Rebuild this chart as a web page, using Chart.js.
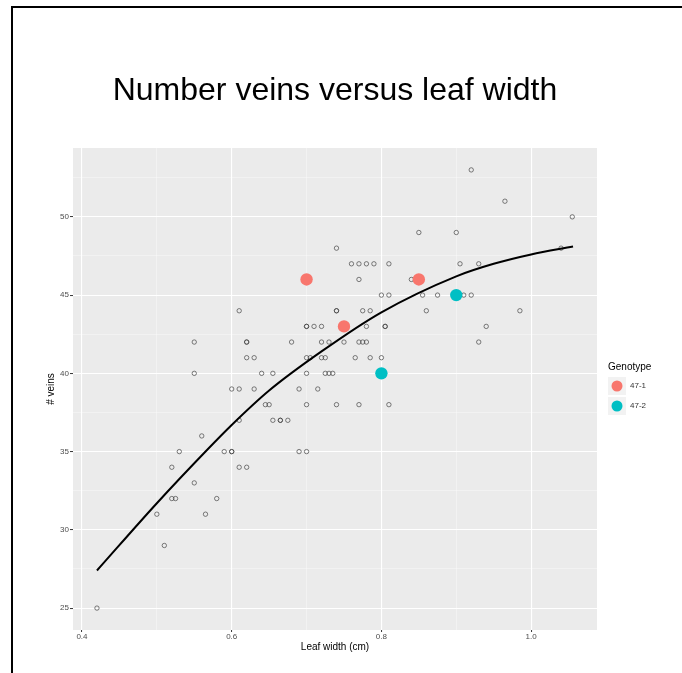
<!DOCTYPE html>
<html>
<head>
<meta charset="utf-8">
<title>Number veins versus leaf width</title>
<script src="https://cdn.jsdelivr.net/npm/chart.js@4.4.1/dist/chart.umd.min.js"></script>
<style>
    html, body { margin: 0; padding: 0; background: #fff; }
    #wrap { position: relative; width: 682px; height: 673px; overflow: hidden; }
    #frame { position: absolute; left: 11px; top: 6px; width: 720px; height: 720px;
             border-top: 2px solid #000; border-left: 2px solid #000; }
    #veinChart { position: absolute; left: 0; top: 0; }
</style>
</head>
<body>
<div id="wrap">
    <div id="frame"></div>
    <canvas id="veinChart" width="682" height="673"></canvas>
</div>
<script>
// all plants: leaf width (cm) and number of veins
const leafWidth = [
    0.92,
    0.965,
    1.055,
    0.85, 0.90,
    0.74, 1.04,
    0.76, 0.77, 0.78, 0.79, 0.81, 0.905, 0.93,
    0.77, 0.84,
    0.80, 0.81, 0.855, 0.875, 0.91, 0.92,
    0.61, 0.74, 0.74, 0.775, 0.785, 0.86, 0.985,
    0.70, 0.70, 0.71, 0.72, 0.78, 0.805, 0.805, 0.94,
    0.55, 0.62, 0.62, 0.68, 0.72, 0.73, 0.75, 0.77, 0.775, 0.78, 0.93,
    0.62, 0.63, 0.70, 0.705, 0.72, 0.725, 0.765, 0.785, 0.80,
    0.55, 0.64, 0.655, 0.70, 0.725, 0.73, 0.735,
    0.60, 0.61, 0.63, 0.69, 0.715,
    0.645, 0.65, 0.70, 0.74, 0.77, 0.81,
    0.61, 0.655, 0.665, 0.665, 0.675,
    0.56,
    0.53, 0.59, 0.60, 0.60, 0.69, 0.70,
    0.52, 0.61, 0.62,
    0.55,
    0.52, 0.525, 0.58,
    0.50, 0.565,
    0.51,
    0.42
];
const veinCount = [
    53,
    51,
    50,
    49, 49,
    48, 48,
    47, 47, 47, 47, 47, 47, 47,
    46, 46,
    45, 45, 45, 45, 45, 45,
    44, 44, 44, 44, 44, 44, 44,
    43, 43, 43, 43, 43, 43, 43, 43,
    42, 42, 42, 42, 42, 42, 42, 42, 42, 42, 42,
    41, 41, 41, 41, 41, 41, 41, 41, 41,
    40, 40, 40, 40, 40, 40, 40,
    39, 39, 39, 39, 39,
    38, 38, 38, 38, 38, 38,
    37, 37, 37, 37, 37,
    36,
    35, 35, 35, 35, 35, 35,
    34, 34, 34,
    33,
    32, 32, 32,
    31, 31,
    29,
    25
];

// highlighted genotypes
const genotypes = ["47-1", "47-2"];
const genotypeColors = ["#F8766D", "#00BFC4"];
const genotypeWidth = [[0.70, 0.75, 0.85], [0.80, 0.90]];
const genotypeVeins = [[46, 43, 46], [40, 45]];

// fitted curve
const curveX = [0.42, 0.50, 0.567, 0.60, 0.65, 0.72, 0.80, 0.90, 0.95, 1.00, 1.056];
const curveY = [27.4, 31.7, 35.1, 36.7, 38.9, 41.4, 43.9, 46.2, 47.0, 47.6, 48.1];

// axis ticks (empty label = minor grid line)
const xTicks = [0.4, 0.5, 0.6, 0.7, 0.8, 0.9, 1.0];
const xLabels = ["0.4", "", "0.6", "", "0.8", "", "1.0"];
const yTicks = [25, 27.5, 30, 32.5, 35, 37.5, 40, 42.5, 45, 47.5, 50, 52.5];
const yLabels = ["25", "", "30", "", "35", "", "40", "", "45", "", "50", ""];

const fontFamily = "'Liberation Sans', Arial, Helvetica, sans-serif";
Chart.defaults.font.family = fontFamily;

function toPoints(xs, ys) {
    return xs.map((x, i) => ({ x: x, y: ys[i] }));
}

// grey panel behind the grid
const panelBackground = {
    id: "panelBackground",
    beforeDraw(chart) {
        const { ctx, chartArea } = chart;
        ctx.save();
        ctx.fillStyle = "#EBEBEB";
        ctx.fillRect(chartArea.left, chartArea.top,
            chartArea.right - chartArea.left, chartArea.bottom - chartArea.top);
        ctx.restore();
    }
};

// ggplot style legend on the right of the panel
const genotypeLegend = {
    id: "genotypeLegend",
    afterDraw(chart) {
        const { ctx, chartArea } = chart;
        const left = chartArea.right + 11;
        const mid = (chartArea.top + chartArea.bottom) / 2;
        ctx.save();
        ctx.textAlign = "left";
        ctx.textBaseline = "middle";
        ctx.fillStyle = "#000";
        ctx.font = "10px " + fontFamily;
        ctx.fillText("Genotype", left, mid - 22);
        genotypes.forEach((name, i) => {
            const cy = mid - 3 + i * 20;
            ctx.fillStyle = "#F2F2F2";
            ctx.fillRect(left, cy - 9, 18, 18);
            ctx.beginPath();
            ctx.arc(left + 9, cy, 5.5, 0, Math.PI * 2);
            ctx.fillStyle = genotypeColors[i];
            ctx.fill();
            ctx.fillStyle = "#333";
            ctx.font = "8px " + fontFamily;
            ctx.fillText(name, left + 22, cy);
        });
        ctx.restore();
    }
};

function gridOptions(labels, tickLength) {
    return {
        color: ctx => labels[ctx.index] ? "#FFFFFF" : "rgba(255,255,255,0.6)",
        lineWidth: ctx => labels[ctx.index] ? 1.1 : 0.6,
        tickColor: ctx => labels[ctx.index] ? "#333333" : "rgba(0,0,0,0)",
        tickWidth: 1,
        tickLength: tickLength
    };
}

const datasets = genotypes.map((name, i) => ({
    label: name,
    data: toPoints(genotypeWidth[i], genotypeVeins[i]),
    backgroundColor: genotypeColors[i],
    borderWidth: 0,
    pointRadius: 6.2
}));

datasets.push({
    label: "fit",
    data: toPoints(curveX, curveY),
    showLine: true,
    borderColor: "#000",
    borderWidth: 2,
    pointRadius: 0,
    cubicInterpolationMode: "monotone"
});

datasets.push({
    label: "plants",
    data: toPoints(leafWidth, veinCount),
    backgroundColor: "rgba(0,0,0,0)",
    borderColor: "rgba(55,55,55,0.8)",
    borderWidth: 0.8,
    pointRadius: 2.2
});

const ctx = document.getElementById("veinChart").getContext("2d");
const veinChart = new Chart(ctx, {
    type: "scatter",
    data: { datasets: datasets },
    options: {
        responsive: false,
        animation: false,
        layout: { padding: { left: 40, right: 85, top: 0, bottom: 19.4 } },
        plugins: {
            legend: { display: false },
            tooltip: { enabled: false },
            title: {
                display: true,
                text: "Number veins versus leaf width",
                fullSize: false,
                color: "#000",
                font: { size: 32, weight: "normal" },
                padding: { top: 72.4, bottom: 37.2 }
            }
        },
        scales: {
            x: {
                type: "linear",
                min: 0.388,
                max: 1.088,
                afterBuildTicks: scale => { scale.ticks = xTicks.map(v => ({ value: v })); },
                ticks: {
                    callback: (value, index) => xLabels[index],
                    color: "#4D4D4D",
                    font: { size: 8 },
                    padding: 0,
                    autoSkip: false,
                    maxRotation: 0
                },
                grid: gridOptions(xLabels, 2),
                border: { display: false },
                title: {
                    display: true,
                    text: "Leaf width (cm)",
                    color: "#000",
                    font: { size: 10 },
                    padding: { top: 0, bottom: 0 }
                }
            },
            y: {
                type: "linear",
                min: 23.6,
                max: 54.4,
                afterBuildTicks: scale => { scale.ticks = yTicks.map(v => ({ value: v })); },
                ticks: {
                    callback: (value, index) => yLabels[index],
                    color: "#4D4D4D",
                    font: { size: 8 },
                    padding: 1,
                    autoSkip: false
                },
                grid: gridOptions(yLabels, 3),
                border: { display: false },
                title: {
                    display: true,
                    text: "# veins",
                    color: "#000",
                    font: { size: 10 },
                    padding: { top: 5, bottom: 2.1 }
                }
            }
        }
    },
    plugins: [panelBackground, genotypeLegend]
});
</script>
</body>
</html>
